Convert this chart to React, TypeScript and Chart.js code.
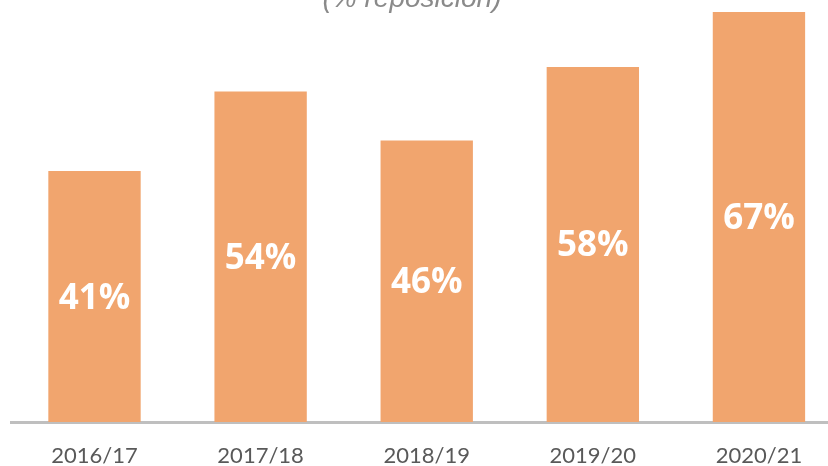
import React, { useEffect, useRef } from "react";
import { Chart, registerables } from "chart.js";

Chart.register(...registerables);

const categories = ["2016/17", "2017/18", "2018/19", "2019/20", "2020/21"];
const values = [41, 54, 46, 58, 67];
const titleText = "(% reposición)";

const barColor = "#F1A56E";

const titlePlugin = {
  id: "topTitle",
  afterDraw(chart: any) {
    const ctx = chart.ctx;
    ctx.save();
    ctx.font = "italic 28px 'Liberation Sans', Arial, sans-serif";
    ctx.fillStyle = "#8A8A8A";
    ctx.textAlign = "center";
    ctx.textBaseline = "middle";
    ctx.fillText(titleText, 412, 29);
    ctx.restore();
  },
};

const labelPlugin = {
  id: "barLabels",
  afterDatasetsDraw(chart: any) {
    const ctx = chart.ctx;
    const meta = chart.getDatasetMeta(0);
    ctx.save();
    ctx.font = "bold 35px 'Open Sans', 'Noto Sans', sans-serif";
    ctx.fillStyle = "#FFFFFF";
    ctx.textAlign = "center";
    ctx.textBaseline = "middle";
    meta.data.forEach((bar: any, i: number) => {
      const y = (bar.y + bar.base) / 2 + 2;
      ctx.fillText(values[i] + "%", bar.x, y);
    });
    ctx.restore();
  },
};

export default function App() {
  const ref = useRef<HTMLCanvasElement | null>(null);

  useEffect(() => {
    if (!ref.current) return;
    const chart = new Chart(ref.current, {
      type: "bar",
      data: {
        labels: categories,
        datasets: [
          {
            data: values,
            backgroundColor: barColor,
            borderWidth: 0,
            barPercentage: 0.556,
            categoryPercentage: 1,
          },
        ],
      },
      options: {
        animation: false,
        responsive: true,
        maintainAspectRatio: false,
        devicePixelRatio: 1,
        layout: { padding: { top: 23.6, left: 11.45, right: 8, bottom: 0 } },
        plugins: {
          legend: { display: false },
          tooltip: { enabled: false },
          title: { display: false },
        },
        scales: {
          x: {
            z: 1,
            grid: { display: false, drawTicks: false },
            border: { display: true, color: "#BFBFBF", width: 3 },
            ticks: {
              color: "#595959",
              padding: 21,
              font: { family: "Lato, 'Open Sans', sans-serif", size: 22 },
            },
            afterFit(scale: any) {
              scale.height = 44;
            },
          },
          y: {
            display: false,
            min: 0,
            max: 70,
          },
        },
      },
      plugins: [labelPlugin, titlePlugin],
    });
    return () => chart.destroy();
  }, []);

  return (
    <div style={{ position: "fixed", left: 0, top: 0, width: 828, height: 466, overflow: "hidden", background: "#fff" }}>
      <div style={{ position: "absolute", left: 0, top: -30, width: 850, height: 496 }}>
        <canvas ref={ref} />
      </div>
    </div>
  );
}
